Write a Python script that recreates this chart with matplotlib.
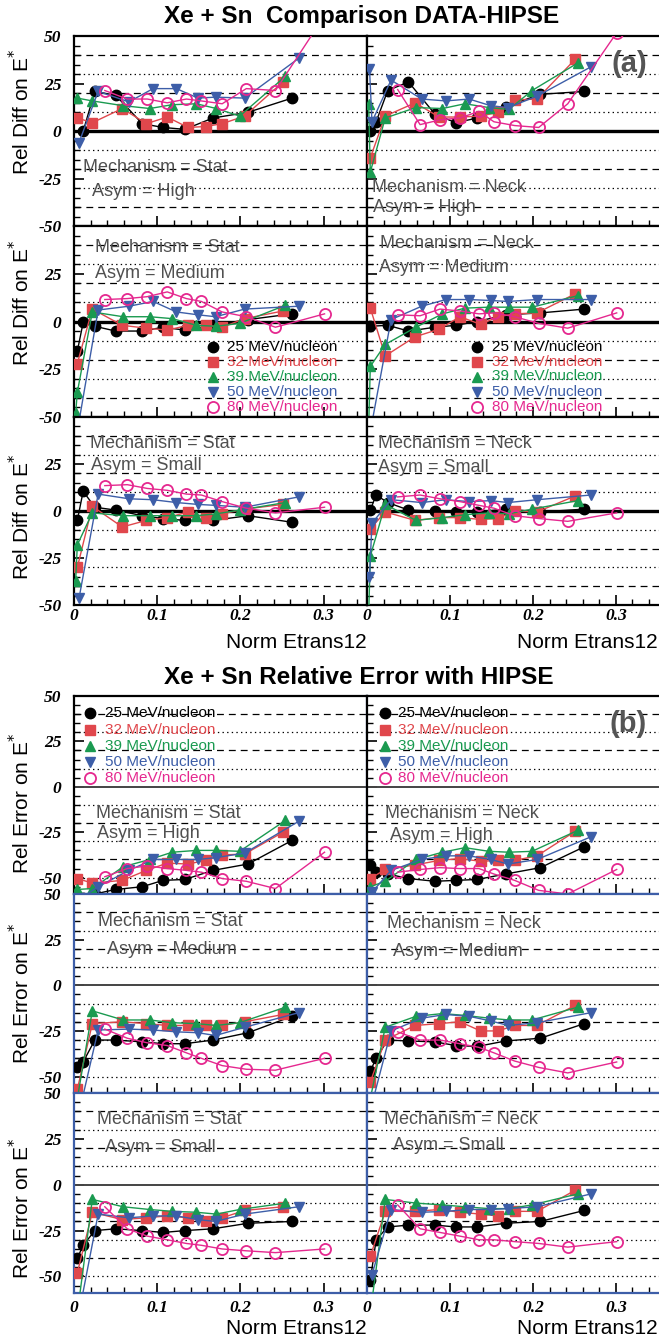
import numpy as np
import matplotlib
matplotlib.use('Agg')
import matplotlib.pyplot as plt
from matplotlib.ticker import FixedLocator, MultipleLocator, NullFormatter, FixedFormatter

nan = np.nan

# ---------------- data ----------------
ENERGY_LABELS = ['25 MeV/nucleon', '32 MeV/nucleon', '39 MeV/nucleon',
                 '50 MeV/nucleon', '80 MeV/nucleon']

X25 = [0.004, 0.011, 0.025, 0.050, 0.082, 0.107, 0.133, 0.167, 0.209, 0.262]
X32 = [0.004, 0.022, 0.058, 0.087, 0.112, 0.137, 0.158, 0.178, 0.205, 0.251]
X39 = [0.002, 0.004, 0.022, 0.059, 0.091, 0.118, 0.147, 0.171, 0.199, 0.254]
X50 = [0.003, 0.006, 0.029, 0.066, 0.095, 0.123, 0.149, 0.170, 0.205, 0.270]
X80 = [0.037, 0.064, 0.088, 0.112, 0.135, 0.153, 0.178, 0.207, 0.242, 0.301]

# (a) Comparison DATA-HIPSE : rows = [25, 32, 39, 50, 80 MeV/nucleon]
A_STAT_HIGH = [
    [nan, 0, 21, 19, 4, 2, 1, 7, 10, 17.5],
    [7, 4.5, 12, 4, 7.5, 2, 2.5, 4, 8, 26],
    [nan, 17.5, 16, 13.5, 12, 14, 14.5, 12, 8, 29],
    [nan, -6, 21, 15.5, 22.5, 22.5, 17.5, 18, 17.5, 38.5],
    [21.5, 17, 17, 15, 17, 16, 14.5, 22.5, 21.5, 61],
]
A_NECK_HIGH = [
    [0, 5, 21.5, 26, 9, 4.5, 7, 13, 19.5, 21],
    [-14, 8, 15, 7.5, 7.5, 8, 10, 16.5, 17, 38],
    [14.5, -21.5, 7, 12.5, 12, 14.5, 12.5, 11.5, 21.5, 36],
    [33, 5, 27, 17, 16, 17, 13.5, 12.5, 18.5, 34],
    [22, 3.5, 6, 7, 10.5, 5, 3, 2, 14.5, 52],
]
A_STAT_MED = [
    [-15.5, -0.5, -2.5, -5, -5, -3, -4.5, -2, 1, 4],
    [-22, 6.5, -2, -3.5, -4.5, -2, -2, -3, 1.5, 5.5],
    [-48, -37, 5, 2.5, 2.5, 1.5, -2, -2.5, -1, 8.5],
    [-60, nan, 6, 8, 10.5, 5, 3.5, 2.5, 6.5, 8],
    [11.5, 12, 13, 15.5, 12, 10.5, 5, 2.5, -3, 4],
]
A_NECK_MED = [
    [-2.5, nan, -2, -5, -3, -2, 0, 3.5, 4.5, 6.5],
    [7, -18, -8, -4, 2.5, -1.5, 2.5, 4, 4.5, 14.5],
    [-55, -23.5, -12, -3, 4, 7, 7.5, 7.5, 7.5, 13.5],
    [-60, nan, 1, 8, 11.5, 11.5, 11, 10.5, 11.5, 11.5],
    [3.5, 3, 6.5, 5.5, 4, 4.5, 2.5, -1, -3.5, 4.5],
]
A_STAT_SMALL = [
    [-5, 10.5, 2, 0.5, -2.5, -4, -5, -5, -2.5, -6],
    [-30, 2.5, -8.5, -5, -3.5, -0.5, -3.5, -1.5, 1, 3.5],
    [-37, -18, -1, -2.5, -2.5, -2.5, -2.5, -1.5, 0.5, 4.5],
    [nan, -46.5, 9, 6.5, 6, 4.5, 3.5, 3, 2, 7.5],
    [13.5, 14, 12, 11, 9, 8.5, 5, 1.5, -1, 2],
]
A_NECK_SMALL = [
    [0.5, 8.5, 4.5, 0.5, 0, -0.5, -0.5, 1, -0.5, 1],
    [-9.5, -0.5, -5, -3.5, -3.5, -4.5, -4, 0, -0.5, 8],
    [-55, -24, 3.5, -5, -3.5, -2, -1, -1.5, 1, 5.5],
    [-35, -6.5, 6, 4.5, 6, 5, 5.5, 4.5, 6, 8.5],
    [7.5, 8.5, 6.5, 5, 3, 1.5, -2.5, -4, -5.5, -1],
]

# (b) Relative Error with HIPSE
B_STAT_HIGH = [
    [-62, -61, -59, -56.5, -55, -51.5, -51, -46, -42.5, -29.5],
    [-50.5, -53, -51.5, -46, -42, -42.5, -40.5, -37.5, -37, -25],
    [nan, -56.5, -56, -44, -40, -36, -35, -35, -35.5, -18.5],
    [nan, -62, -55, -46, -40, -40, -40, -39, -36.5, -19],
    [-49.5, -45, -43.5, -45, -46, -47, -50.5, -52, -56, -36],
]
B_NECK_HIGH = [
    [-43, -47, -48, -50.5, -52, -51.5, -51, -48, -44.5, -33],
    [-50.5, -45.5, -43, -40.5, -39.5, -41, -40.5, -40.5, -38, -24.5],
    [nan, -55, -52, -40, -36, -33.5, -35.5, -36, -35.5, -24],
    [nan, -58, -46, -40, -38, -38, -40, -42.5, -40, -27.5],
    [-47, -45.5, -44.5, -45, -45, -48, -51.5, -57, -59, -45.5],
]
B_STAT_MED = [
    [-45, -42, -30, -30, -31, -32, -32, -30, -26, -17],
    [-57, -21, -20, -21, -22, -22, -22, -22, -20, -16],
    [nan, -62, -14, -19, -19, -20.5, -21, -22, -20.5, -12],
    [nan, -70, -24.5, -24, -24.5, -25.5, -26, -27.5, -23, -15],
    [-24, -29, -31.5, -33, -37, -40, -44, -46, -46.5, -40],
]
B_NECK_MED = [
    [-47, -40, -30, -30.5, -31, -33, -33.5, -30.5, -29, -21],
    [-53, -30, -22, -21, -20, -25, -25, -22, -22, -11],
    [nan, -62, -23, -17, -15.5, -16.5, -18, -19, -19, -12],
    [nan, -65, -25, -18, -16, -17, -19.5, -22, -20.5, -15],
    [-25.5, -30, -30, -32, -34, -37, -41.5, -45, -48, -42],
]
B_STAT_SMALL = [
    [-40, -33, -25, -24, -25, -26, -25, -24, -21, -20],
    [-48, -15, -19, -18, -17, -18, -20, -18, -14, -12],
    [nan, -70, -8, -12, -13.5, -14.5, -15, -16, -13.5, -10],
    [nan, -70, -16, -18, -17, -17, -19, -20, -16, -12],
    [-12, -24, -28, -30, -32, -33, -35, -36, -37, -35],
]
B_NECK_SMALL = [
    [-52, -30, -23, -22, -22, -23, -23, -21, -20, -14],
    [-39, -14.5, -14.5, -13.5, -15, -16, -17, -14.5, -14.5, -3],
    [nan, -70, -8, -10, -11, -12, -13, -13, -11, -5],
    [nan, -49, -13.5, -15, -14.5, -13.5, -13.5, -13, -12, -5],
    [-11, -24, -26, -28, -30, -30, -31, -32, -34, -31],
]

YTICKS = [-50, -25, 0, 25, 50]
YTICK_LABELS = ['-50', '-25', '0', '25', '50']
XTICKS = [0, 0.1, 0.2, 0.3]
XTICK_LABELS = ['0', '0.1', '0.2', '0.3']

# ---------------- style ----------------
XS = [X25, X32, X39, X50, X80]
COLORS = ['#000000', '#e0474c', '#1a9a50', '#3d5ea8', '#e5288f']
MARKERS = ['o', 's', '^', 'v', 'o']
SANS = ['Liberation Sans', 'DejaVu Sans']
SERIF = ['Liberation Serif', 'DejaVu Serif']
BLUE_FRAME = '#3d5ea8'
ANN_COLOR = '#505050'

W, H = 659, 1341
fig = plt.figure(figsize=(W / 100, H / 100), dpi=100)


def fx(x):
    return x / W


def fy(y):
    return 1 - y / H


def make_ax(l, r, t, b):
    return fig.add_axes([l / W, 1 - b / H, (r - l) / W, (b - t) / H])


def style_series(i):
    d = dict(color=COLORS[i], marker=MARKERS[i], lw=1.0, ms=7.5)
    if i == 4:
        d.update(mfc='none', mec=COLORS[i], mew=1.3, ms=8)
    else:
        d.update(mfc=COLORS[i], mec=COLORS[i])
    if i == 1:
        d.update(ms=7)
    return d


def draw_panel(ax, data, ylim, group):
    ax.set_xlim(0, 0.352)
    ax.set_ylim(*ylim)
    for v in (-40, -20, 20, 40):
        ax.axhline(v, color='black', lw=0.9, ls=(0, (5.5, 4)), zorder=1)
    dotted = (-30, -10, 10, 30) if group == 'a' else (-50, -30, -10, 10, 30)
    for v in dotted:
        ax.axhline(v, color='black', lw=0.9, ls=(0, (1.1, 2.6)), zorder=1)
    if group == 'a':
        ax.axhline(0, color='black', lw=2.4, zorder=2)
    else:
        ax.axhline(0, color='#444444', lw=1.4, zorder=2)
    for i, ys in enumerate(data):
        x = np.asarray(XS[i], float)
        y = np.asarray(ys, float)
        m = np.isfinite(y)
        ax.plot(x[m], y[m], zorder=3 + i, clip_on=True, **style_series(i))
    ax.yaxis.set_major_locator(FixedLocator(YTICKS))
    ax.yaxis.set_minor_locator(MultipleLocator(5))
    ax.xaxis.set_major_locator(FixedLocator(XTICKS))
    ax.xaxis.set_minor_locator(MultipleLocator(0.02))
    ax.tick_params(axis='both', which='major', direction='in', length=7, width=1.2,
                   left=True, right=False, top=False, bottom=True)
    ax.tick_params(axis='both', which='minor', direction='in', length=4, width=1.0,
                   left=True, right=False, top=False, bottom=True)
    ax.xaxis.set_major_formatter(NullFormatter())
    ax.yaxis.set_major_formatter(NullFormatter())


COL_L = (74, 367)
COL_R = (367, 659)
ROWS_A = [(36.5, 226), (226, 417), (417, 605)]
ROWS_B = [(696, 894), (894, 1093), (1093, 1293)]
YLIM_A = (-50, 50)
YLIM_B = (-59, 50)

PANELS_A = [(A_STAT_HIGH, A_NECK_HIGH), (A_STAT_MED, A_NECK_MED), (A_STAT_SMALL, A_NECK_SMALL)]
PANELS_B = [(B_STAT_HIGH, B_NECK_HIGH), (B_STAT_MED, B_NECK_MED), (B_STAT_SMALL, B_NECK_SMALL)]


def style_ticklabels(labels):
    for lab in labels:
        lab.set_family(SERIF)
        lab.set_weight('bold')
        lab.set_style('italic')
        lab.set_size(12.5)


axes = {}
for group, rows, panels, ylim in (('a', ROWS_A, PANELS_A, YLIM_A), ('b', ROWS_B, PANELS_B, YLIM_B)):
    for r, ((t, b), (dl, dr)) in enumerate(zip(rows, panels)):
        for c, (col, data) in enumerate(((COL_L, dl), (COL_R, dr))):
            ax = make_ax(col[0], col[1], t, b)
            draw_panel(ax, data, ylim, group)
            for s in ax.spines.values():
                s.set_linewidth(1.6)
                s.set_color('black')
            if c == 1:
                ax.spines['right'].set_visible(False)
            if group == 'b':
                for k in ('left', 'right', 'bottom', 'top'):
                    ax.spines[k].set_color(BLUE_FRAME)
                if r == 0:
                    ax.spines['top'].set_color('black')
                    ax.spines['left'].set_color('black')
            if c == 0:
                if group == 'a' and r > 0:
                    labs = [l if v != 50 else '' for v, l in zip(YTICKS, YTICK_LABELS)]
                else:
                    labs = YTICK_LABELS
                ax.yaxis.set_major_formatter(FixedFormatter(labs))
                ax.tick_params(axis='y', which='major', pad=9)
                style_ticklabels(ax.get_yticklabels())
            if r == 2:
                ax.xaxis.set_major_formatter(FixedFormatter(XTICK_LABELS))
                ax.tick_params(axis='x', which='major', pad=2 if group == 'a' else 5)
                style_ticklabels(ax.get_xticklabels())
            axes[(group, r, c)] = ax

# ---------------- titles & labels ----------------
fig.text(fx(362), fy(17), 'Xe + Sn  Comparison DATA-HIPSE', ha='center', va='center',
         fontsize=17.5, fontweight='bold', family=SANS)
fig.text(fx(359), fy(678), 'Xe + Sn Relative Error with HIPSE', ha='center', va='center',
         fontsize=17.5, fontweight='bold', family=SANS)
fig.text(fx(629), fy(64), '(a)', ha='center', va='center', fontsize=21,
         fontweight='bold', color='#555555', family=SANS)
fig.text(fx(628), fy(724), '(b)', ha='center', va='center', fontsize=21,
         fontweight='bold', color='#555555', family=SANS)

for yc in (112, 303, 517):
    fig.text(fx(21), fy(yc), 'Rel Diff on E$^{*}$', rotation=90, ha='center', va='center',
             fontsize=15, family=SANS)
for yc in (803, 993, 1208):
    fig.text(fx(21), fy(yc), 'Rel Error on E$^{*}$', rotation=90, ha='center', va='center',
             fontsize=15, family=SANS)
for xr in (367, 658):
    fig.text(fx(xr), fy(642), 'Norm Etrans12', ha='right', va='center', fontsize=15, family=SANS)
    fig.text(fx(xr), fy(1329), 'Norm Etrans12', ha='right', va='center', fontsize=15, family=SANS)

# annotations (pixel positions of left edge / centre)
ANNOTS = [
    (83, 168, 'Mechanism = Stat'), (92, 191, 'Asym = High'),
    (372, 188, 'Mechanism = Neck'), (373, 208, 'Asym = High'),
    (95, 247, 'Mechanism = Stat'), (95, 274, 'Asym = Medium'),
    (380, 243, 'Mechanism = Neck'), (379, 268, 'Asym = Medium'),
    (90, 444, 'Mechanism = Stat'), (91, 466, 'Asym = Small'),
    (378, 444, 'Mechanism = Neck'), (378, 467, 'Asym = Small'),
    (96, 813, 'Mechanism = Stat'), (97, 834, 'Asym = High'),
    (385, 814, 'Mechanism = Neck'), (390, 835, 'Asym = High'),
    (98, 922, 'Mechanism = Stat'), (107, 950, 'Asym = Medium'),
    (387, 923, 'Mechanism = Neck'), (393, 951, 'Asym = Medium'),
    (97, 1120, 'Mechanism = Stat'), (105, 1147, 'Asym = Small'),
    (384, 1120, 'Mechanism = Neck'), (393, 1145, 'Asym = Small'),
]
for x, y, s in ANNOTS:
    fig.text(fx(x), fy(y), s, ha='left', va='center', fontsize=13, color=ANN_COLOR,
             family=SANS, zorder=10)

# legends
LEGENDS = [
    (213, 227, [347, 362.5, 377, 392, 407]),
    (477, 492, [347, 362, 376.5, 392, 407]),
    (90, 105, [713, 729.5, 746, 762, 778]),
    (385, 398, [713, 729.5, 746, 762, 778]),
]
for mx, tx, ys in LEGENDS:
    for i, y in enumerate(ys):
        st = style_series(i)
        st.pop('lw', None)
        fig.add_artist(plt.Line2D([fx(mx)], [fy(y)], transform=fig.transFigure, ls='none',
                                  **st))
        fig.text(fx(tx), fy(y), ENERGY_LABELS[i], ha='left', va='center', fontsize=11,
                 color=COLORS[i], family=SANS)

fig.savefig('out.png', dpi=100)
